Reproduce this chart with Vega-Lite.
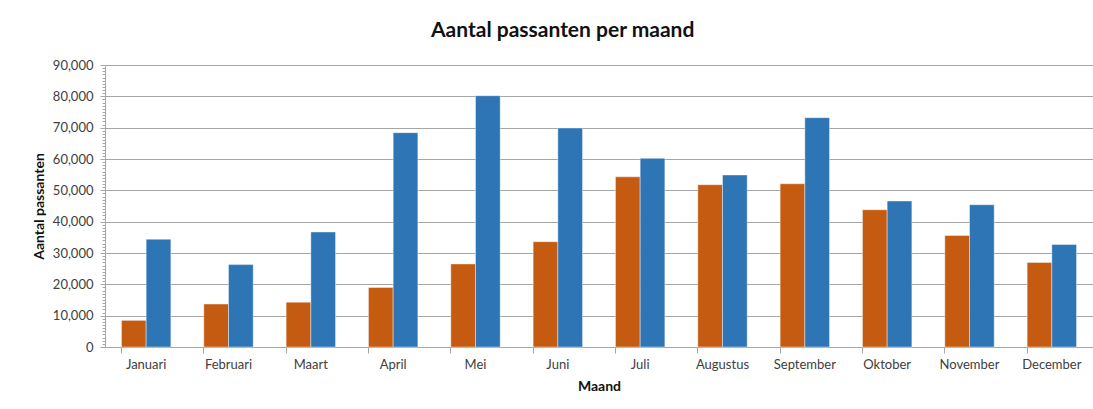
{
  "$schema": "https://vega.github.io/schema/vega-lite/v6.json",
  "autosize": {"type": "none"},
  "width": 988,
  "height": 282,
  "padding": {"left": 105, "top": 65, "right": 0, "bottom": 62},
  "background": "white",
  "title": {
    "text": "Aantal passanten per maand",
    "font": "Lato",
    "fontSize": 21,
    "fontWeight": "bold",
    "color": "#111111",
    "anchor": "middle",
    "frame": "bounds",
    "offset": 18
  },
  "config": {
    "view": {"stroke": null},
    "axis": {"labelFont": "Lato", "titleFont": "Lato", "labelColor": "#404040", "titleColor": "#111111"}
  },
  "data": {
    "values": [
      {"maand": "Januari", "serie": "Reeks 1", "passanten": 8500},
      {"maand": "Januari", "serie": "Reeks 2", "passanten": 34400},
      {"maand": "Februari", "serie": "Reeks 1", "passanten": 13700},
      {"maand": "Februari", "serie": "Reeks 2", "passanten": 26300},
      {"maand": "Maart", "serie": "Reeks 1", "passanten": 14300},
      {"maand": "Maart", "serie": "Reeks 2", "passanten": 36700},
      {"maand": "April", "serie": "Reeks 1", "passanten": 19000},
      {"maand": "April", "serie": "Reeks 2", "passanten": 68400},
      {"maand": "Mei", "serie": "Reeks 1", "passanten": 26500},
      {"maand": "Mei", "serie": "Reeks 2", "passanten": 80200},
      {"maand": "Juni", "serie": "Reeks 1", "passanten": 33600},
      {"maand": "Juni", "serie": "Reeks 2", "passanten": 69900},
      {"maand": "Juli", "serie": "Reeks 1", "passanten": 54300},
      {"maand": "Juli", "serie": "Reeks 2", "passanten": 60200},
      {"maand": "Augustus", "serie": "Reeks 1", "passanten": 51800},
      {"maand": "Augustus", "serie": "Reeks 2", "passanten": 54900},
      {"maand": "September", "serie": "Reeks 1", "passanten": 52100},
      {"maand": "September", "serie": "Reeks 2", "passanten": 73200},
      {"maand": "Oktober", "serie": "Reeks 1", "passanten": 43800},
      {"maand": "Oktober", "serie": "Reeks 2", "passanten": 46600},
      {"maand": "November", "serie": "Reeks 1", "passanten": 35600},
      {"maand": "November", "serie": "Reeks 2", "passanten": 45400},
      {"maand": "December", "serie": "Reeks 1", "passanten": 27000},
      {"maand": "December", "serie": "Reeks 2", "passanten": 32700}
    ]
  },
  "mark": {"type": "bar", "stroke": "white", "strokeWidth": 0.6, "strokeOpacity": 0.7},
  "encoding": {
    "x": {
      "field": "maand",
      "type": "nominal",
      "sort": null,
      "scale": {"paddingInner": 0.4, "paddingOuter": 0.2},
      "axis": {
        "title": "Maand",
        "titleFontSize": 14,
        "titleFontWeight": "bold",
        "titlePadding": 8,
        "labelAngle": 0,
        "labelFontSize": 13,
        "labelPadding": 5,
        "bandPosition": 0,
        "tickSize": 6,
        "tickColor": "#A6A6A6",
        "domainColor": "#A6A6A6",
        "grid": false
      }
    },
    "xOffset": {"field": "serie", "type": "nominal"},
    "y": {
      "field": "passanten",
      "type": "quantitative",
      "scale": {"domain": [0, 90000], "nice": false},
      "axis": {
        "title": "Aantal passanten",
        "titleFontSize": 14,
        "titleFontWeight": "bold",
        "titlePadding": 6,
        "tickCount": 90,
        "labelExpr": "datum.value % 10000 === 0 ? format(datum.value, ',') : ''",
        "labelFontSize": 13,
        "labelPadding": 7,
        "tickSize": {"condition": {"test": "datum.value % 10000 === 0", "value": 5}, "value": 3},
        "tickColor": "#A6A6A6",
        "domainColor": "#A6A6A6",
        "grid": true,
        "gridColor": "#A6A6A6",
        "gridOpacity": {"condition": {"test": "datum.value % 10000 === 0", "value": 1}, "value": 0}
      }
    },
    "color": {
      "field": "serie",
      "type": "nominal",
      "scale": {"range": ["#C55A11", "#2E75B6"]},
      "legend": null
    }
  }
}
